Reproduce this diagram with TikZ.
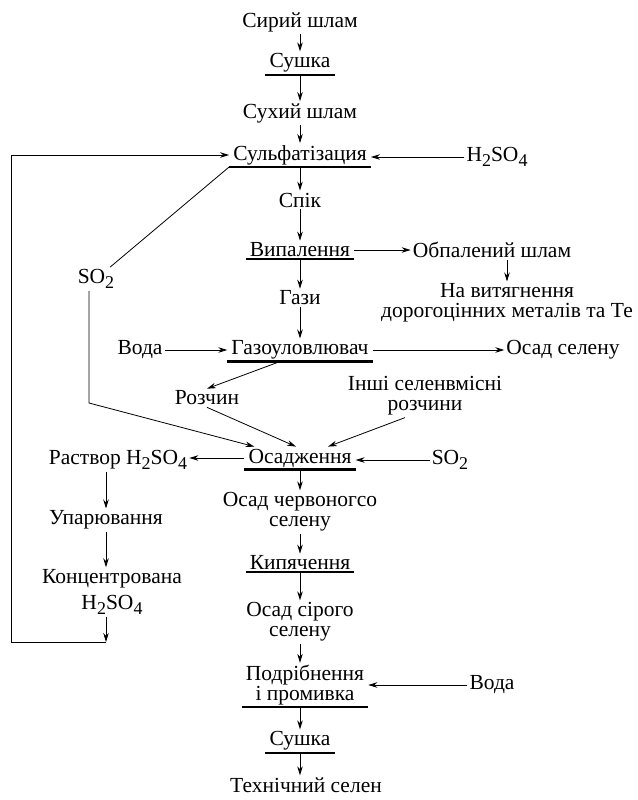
\documentclass[tikz,border=0pt]{standalone}
\usepackage{fontspec}
\setmainfont{Liberation Serif}
\usetikzlibrary{arrows.meta}
\tikzset{
  arr/.style={-{Stealth[length=9pt,width=5.5pt]},line width=0.8pt},
  ln/.style={line width=0.8pt},
  bar/.style={line width=2.2pt},
  proc/.style={inner xsep=4pt,
    append after command={(\tikzlastnode.south west) edge[bar] (\tikzlastnode.south east)}}
}
\newcommand{\chemsub}[1]{\raisebox{-5pt}{\fontsize{18}{18}\selectfont #1}}
\newcommand{\acid}{H\chemsub{2}SO\chemsub{4}}
\newcommand{\sdiox}{SO\chemsub{2}}

\begin{document}
\begin{tikzpicture}[x=1pt,y=-1pt,every node/.style={font=\fontsize{21.5}{20}\selectfont,
	align=center,inner sep=2pt}]
\useasboundingbox (0,0) rectangle (637,800);
% main line
\node (raw) at (300,22) {Сирий шлам};
\node[proc] (dry1) at (300,63) {Сушка};
\node (drysl) at (300,113) {Сухий шлам};
\node[proc] (sulf) at (300,155) {Сульфатізация};
\node (acid1) at (497,157) {\acid};
\node (spik) at (300,200) {Спік};
\node[proc] (roast) at (300,250) {Випалення};
\node (burnt) at (492,250) {Обпалений шлам};
\node (noble) at (507,303) {На витягнення\\дорогоцінних металів та Те};
\node (gases) at (300,298) {Гази};
\node[proc] (trap) at (300,350) {Газоуловлювач};
\node (water1) at (140,350) {Вода};
\node (sesed) at (563,350) {Осад селену};
\node (sol) at (207,398) {Розчин};
\node (other) at (425,396) {Інші селенвмісні\\розчини};
\node[proc] (prec) at (300,458) {Осадження};
\node (so2b) at (450,460) {\sdiox};
\node (so2a) at (96,279) {\sdiox};
\node (redse) at (300,512) {Осад червоногсо\\селену};
\node[proc] (boil) at (300,563) {Кипячення};
\node (greyse) at (300,622) {Осад сірого\\селену};
\node[proc] (mill) at (305,685) {Подрібнення\\і промивка};
\node (water2) at (492,685) {Вода};
\node[proc] (dry2) at (300,741) {Сушка};
\node (tech) at (306,785) {Технічний селен};
% acid branch
\node (acidsol) at (118,460) {Раствор \acid};
\node (evap) at (106,520) {Упарювання};
\node (conc) at (112,592) {Концентрована\\[6pt]\acid};
\coordinate (loop) at (106,642);
\coordinate (bend) at (89,403);

\draw[arr] (raw) -- (dry1);
\draw[arr] (dry1) -- (drysl);
\draw[arr] (drysl) -- (sulf);
\draw[arr] (acid1) -- (acid1 -| sulf.east);
\draw[arr] (sulf) -- (spik);
\draw[arr] (spik) -- (roast);
\draw[arr] (roast) -- (burnt);
\draw[arr] (burnt.south -| noble.north) -- (noble);
\draw[arr] (roast) -- (gases);
\draw[arr] (gases) -- (trap);
\draw[arr] (water1) -- (trap);
\draw[arr] (trap) -- (sesed);
\draw[arr] ([xshift=-20pt]trap.south) -- (sol.north);
\draw[arr] (sol.south) -- ([xshift=-4pt]prec.north);
\draw[arr] ([xshift=-20pt]other.south) -- ([xshift=28pt]prec.north);
\draw[ln] (sulf.south west) -- (so2a);
\draw[arr] (bend |- so2a.south) -- (bend) -- ([xshift=10pt]prec.north west);
\draw[arr] (so2b) -- (so2b -| prec.east);
\draw[arr] (prec) -- (prec -| acidsol.east);
\draw[arr] (prec) -- (redse);
\draw[arr] (redse) -- (boil);
\draw[arr] (boil) -- (greyse);
\draw[arr] (greyse) -- (greyse |- mill.north);
\draw[arr] (water2) -- (mill);
\draw[arr] (mill.south -| dry2) -- (dry2);
\draw[arr] (dry2) -- (dry2 |- tech.north);
% recycle of acid
\draw[arr] (evap |- acidsol.south) -- (evap);
\draw[arr] (evap) -- (evap |- conc.north);
\draw[arr] (conc.south -| loop) -- (loop);
\draw[arr] (loop) -- ++(-95,0) |- (sulf);
\end{tikzpicture}
\end{document}
